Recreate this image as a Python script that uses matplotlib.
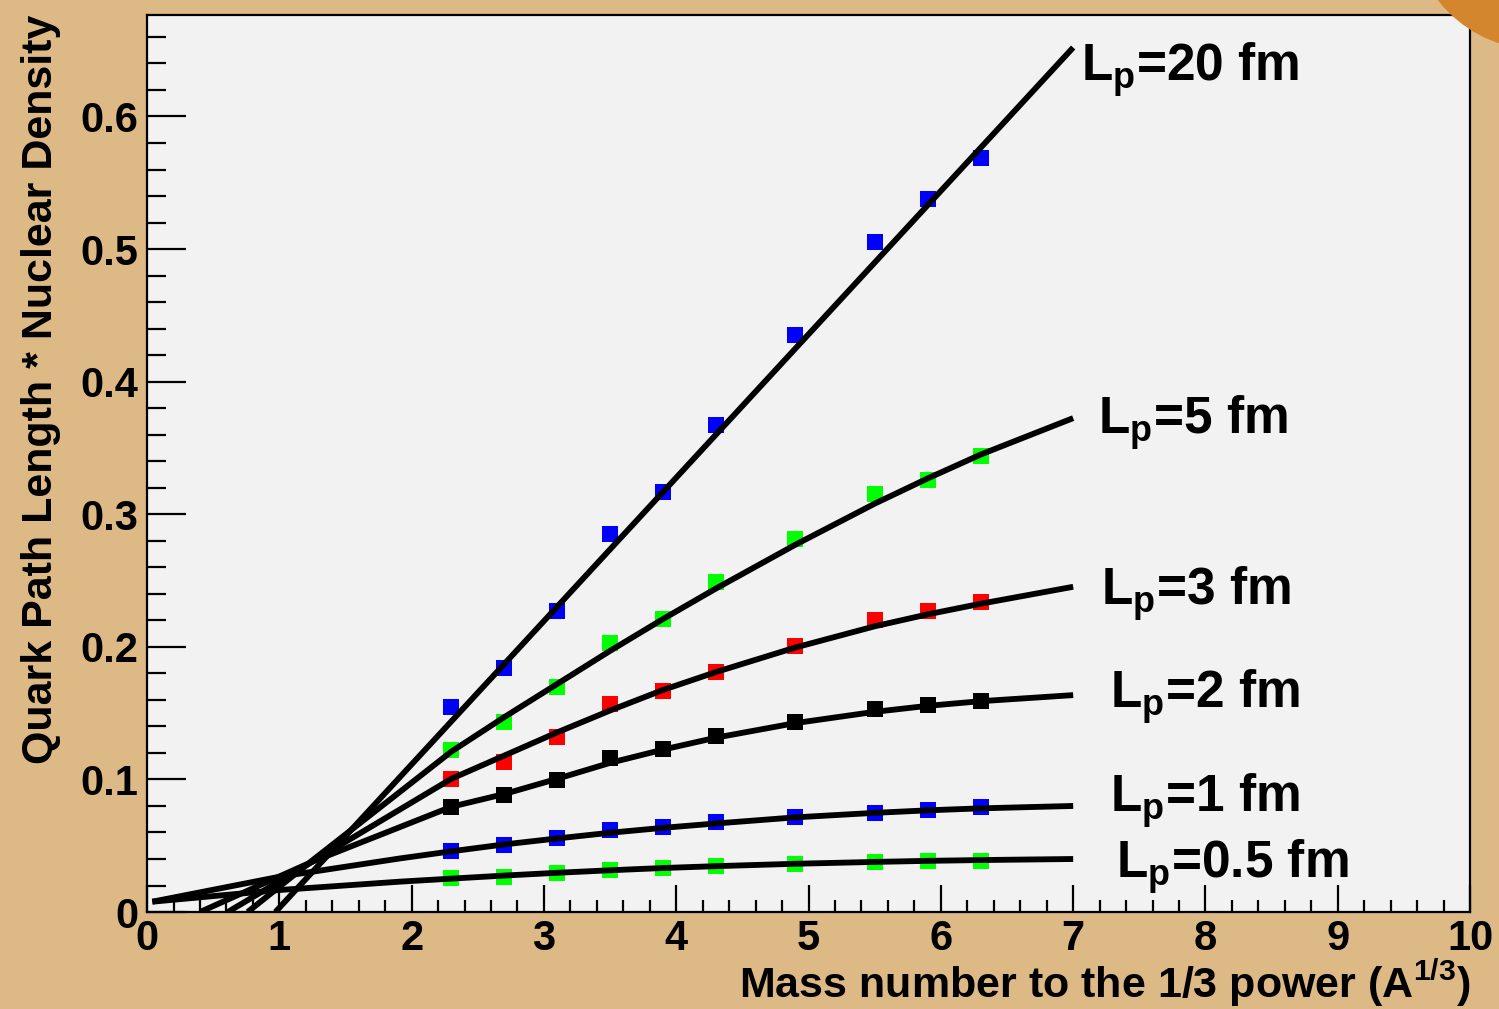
import matplotlib
matplotlib.use('Agg')
import matplotlib.pyplot as plt
from matplotlib.patches import Ellipse
from matplotlib.ticker import MultipleLocator, FuncFormatter


# Measured points (A^1/3 of the nuclei)
x_nuclei = [2.3, 2.7, 3.1, 3.5, 3.9, 4.3, 4.9, 5.5, 5.9, 6.3]

pts_lp20 = [0.155, 0.184, 0.227, 0.285, 0.317, 0.367, 0.435, 0.505, 0.538, 0.569]
pts_lp5 = [0.122, 0.143, 0.170, 0.203, 0.221, 0.249, 0.281, 0.315, 0.326, 0.344]
pts_lp3 = [0.100, 0.113, 0.132, 0.157, 0.167, 0.181, 0.201, 0.220, 0.227, 0.234]
pts_lp2 = [0.079, 0.088, 0.0995, 0.116, 0.123, 0.133, 0.143, 0.153, 0.156, 0.159]
pts_lp1 = [0.046, 0.0505, 0.0555, 0.062, 0.064, 0.068, 0.072, 0.075, 0.077, 0.079]
pts_lp05 = [0.0254, 0.0266, 0.0296, 0.0317, 0.033, 0.0347, 0.0362, 0.0377, 0.0387, 0.0387]

# Curves
curve_x_lp20 = [0.97, 7.0]
curve_y_lp20 = [0.0, 0.652]

curve_x_lp5 = [0.76, 1.25, 2.3, 2.7, 3.1, 3.5, 3.9, 4.3, 4.9, 5.5, 5.9, 6.3, 7.0]
curve_y_lp5 = [0.0, 0.039, 0.121, 0.147, 0.172, 0.197, 0.221, 0.244, 0.277, 0.308, 0.327, 0.345, 0.3725]

curve_x_lp3 = [0.61, 1.25, 2.3, 2.7, 3.1, 3.5, 3.9, 4.3, 4.9, 5.5, 5.9, 6.3, 7.0]
curve_y_lp3 = [0.0, 0.038, 0.1005, 0.118, 0.1355, 0.152, 0.1675, 0.181, 0.1995, 0.2155, 0.2245, 0.2325, 0.2453]

curve_x_lp2 = [0.40, 1.25, 2.3, 2.7, 3.1, 3.5, 3.9, 4.3, 4.9, 5.5, 5.9, 6.3, 7.0]
curve_y_lp2 = [0.0, 0.038, 0.0794, 0.089, 0.1005, 0.1125, 0.1225, 0.1315, 0.1425, 0.151, 0.1555, 0.159, 0.1636]

curve_x_lp1 = [0.04, 1.0, 1.91, 2.3, 2.7, 3.1, 3.5, 3.9, 4.3, 4.9, 5.5, 5.9, 6.3, 7.0]
curve_y_lp1 = [0.0078, 0.0266, 0.0404, 0.0458, 0.051, 0.0555, 0.0598, 0.0635, 0.0668, 0.0714, 0.0748, 0.0767, 0.0782, 0.080]

curve_x_lp05 = [0.04, 1.0, 1.91, 2.3, 2.7, 3.1, 3.5, 3.9, 4.3, 4.9, 5.5, 5.9, 6.3, 7.0]
curve_y_lp05 = [0.0078, 0.0166, 0.0229, 0.0252, 0.0275, 0.0296, 0.0315, 0.0332, 0.0346, 0.0364, 0.0378, 0.0386, 0.0392, 0.040]

labels = ['20', '5', '3', '2', '1', '0.5']
label_x = [7.06, 7.19, 7.21, 7.28, 7.28, 7.32]
label_y = [0.627, 0.361, 0.232, 0.154, 0.0756, 0.0256]


plt.rcParams['font.family'] = 'Liberation Sans'
plt.rcParams['font.weight'] = 'bold'
plt.rcParams['mathtext.fontset'] = 'custom'
plt.rcParams['mathtext.rm'] = 'Liberation Sans:bold'
plt.rcParams['mathtext.bf'] = 'Liberation Sans:bold'
plt.rcParams['mathtext.it'] = 'Liberation Sans:bold'

fig = plt.figure(figsize=(14.99, 10.09), dpi=100, facecolor='#DDB986')
ax = fig.add_axes([0.0981, 0.0961, 0.8826, 0.889])
ax.set_facecolor('#F2F2F2')

# Markers
series = [
    (pts_lp20, '#0000FF'),
    (pts_lp5, '#00FF00'),
    (pts_lp3, '#FF0000'),
    (pts_lp2, '#000000'),
    (pts_lp1, '#0000FF'),
    (pts_lp05, '#00FF00'),
]
for vals, col in series:
    ax.plot(x_nuclei, vals, 's', color=col, ms=12, mew=0, zorder=2)

# Curves
curves = [
    (curve_x_lp20, curve_y_lp20),
    (curve_x_lp5, curve_y_lp5),
    (curve_x_lp3, curve_y_lp3),
    (curve_x_lp2, curve_y_lp2),
    (curve_x_lp1, curve_y_lp1),
    (curve_x_lp05, curve_y_lp05),
]
for cx, cy in curves:
    ax.plot(cx, cy, '-', color='black', lw=4.2, solid_capstyle='butt',
            solid_joinstyle='round', zorder=3)

for lab, lx, ly in zip(labels, label_x, label_y):
    ax.text(lx, ly, r'$\mathbf{L_p}$=' + lab + ' fm', fontsize=37,
            fontweight='bold', ha='left', va='baseline')

ax.set_xlim(0, 10)
ax.set_ylim(0, 0.6765)

ax.xaxis.set_major_locator(MultipleLocator(1))
ax.xaxis.set_minor_locator(MultipleLocator(0.2))
ax.yaxis.set_major_locator(MultipleLocator(0.1))
ax.yaxis.set_minor_locator(MultipleLocator(0.02))
ax.yaxis.set_major_formatter(FuncFormatter(lambda v, p: '0' if abs(v) < 1e-9 else f'{v:.1f}'))

ax.tick_params(which='both', direction='in', top=False, right=False, width=1.6,
               labelsize=30, color='black')
ax.tick_params(axis='x', which='major', length=19.5, pad=5)
ax.tick_params(axis='x', which='minor', length=8.6)
ax.tick_params(axis='y', which='major', length=28, pad=6)
ax.tick_params(axis='y', which='minor', length=13.7)

for sp in ax.spines.values():
    sp.set_linewidth(1.6)

ax.set_xlabel(r'Mass number to the 1/3 power (A$^{\mathbf{1/3}}$)', fontsize=31,
              fontweight='bold', loc='right', labelpad=-1)
ax.set_ylabel('Quark Path Length * Nuclear Density', fontsize=31,
              fontweight='bold', loc='top', labelpad=14)

# Orange corner decoration
fig.patches.append(Ellipse((1.0274, 1.0793), 0.1734, 0.2577, transform=fig.transFigure,
                           facecolor='#D4862F', edgecolor='none', zorder=5))

fig.savefig('out.png', dpi=100, facecolor=fig.get_facecolor())
